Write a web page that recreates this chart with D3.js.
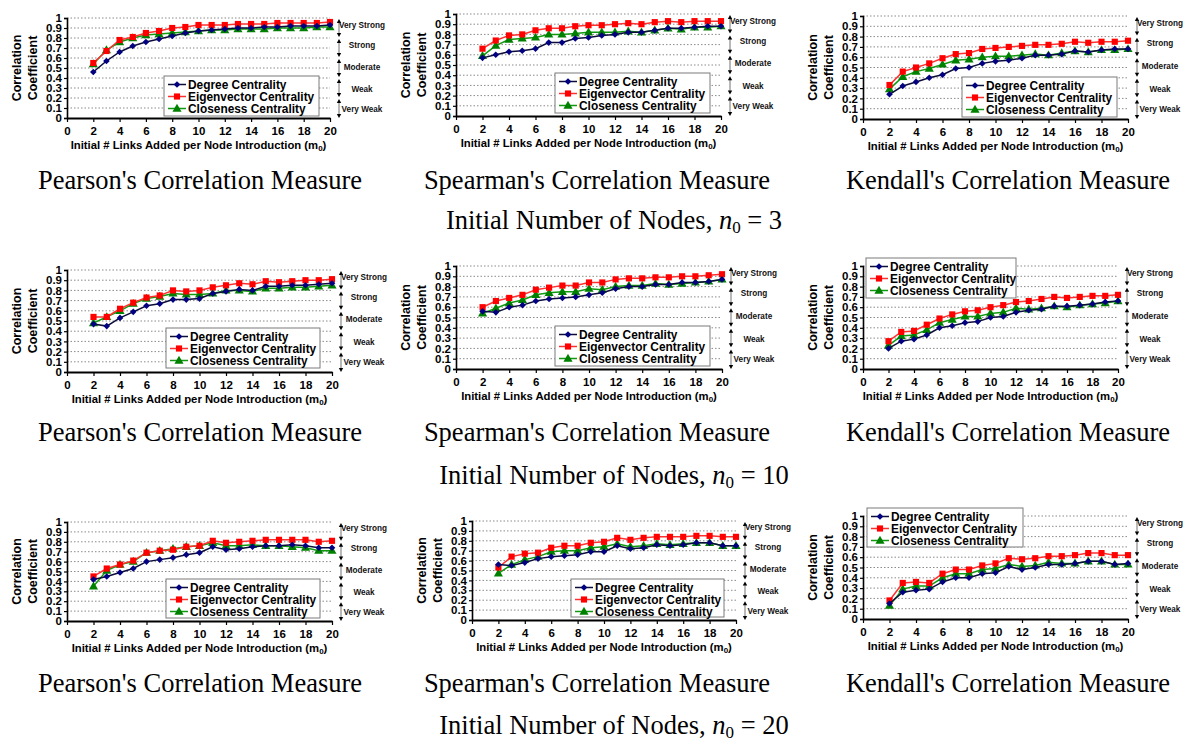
<!DOCTYPE html>
<html><head><meta charset="utf-8">
<script src="https://cdn.jsdelivr.net/npm/d3@7"></script>
<style>body{margin:0;background:#fff}svg{display:block}</style>
</head><body>
<svg id="c" width="1184" height="743"></svg>
<script>
// ---------- data ----------
const m0 = [2,3,4,5,6,7,8,9,10,11,12,13,14,15,16,17,18,19,20];
const xTicks = [0,2,4,6,8,10,12,14,16,18,20];
const yTicks = [0,0.1,0.2,0.3,0.4,0.5,0.6,0.7,0.8,0.9,1];
const yTickLabels = ["0","0.1","0.2","0.3","0.4","0.5","0.6","0.7","0.8","0.9","1"];
const seriesNames = ["Degree Centrality","Eigenvector Centrality","Closeness Centrality"];
const bandLabels = ["Very Strong","Strong","Moderate","Weak","Very Weak"];
const measureNames = ["Pearson's Correlation Measure","Spearman's Correlation Measure","Kendall's Correlation Measure"];
const n0Values = ["3","10","20"];

// n0 = 3
const pearsonN3Degree = [0.46,0.57,0.66,0.72,0.76,0.79,0.82,0.85,0.87,0.88,0.89,0.90,0.90,0.91,0.91,0.92,0.92,0.92,0.93];
const pearsonN3Eigen  = [0.55,0.67,0.78,0.81,0.85,0.87,0.90,0.91,0.93,0.93,0.93,0.94,0.94,0.94,0.95,0.95,0.95,0.95,0.96];
const pearsonN3Close  = [0.54,0.68,0.76,0.80,0.83,0.84,0.85,0.86,0.87,0.88,0.88,0.89,0.89,0.89,0.90,0.90,0.90,0.91,0.91];
const spearmanN3Degree = [0.57,0.60,0.63,0.64,0.66,0.72,0.72,0.76,0.77,0.79,0.80,0.82,0.82,0.84,0.86,0.86,0.87,0.88,0.88];
const spearmanN3Eigen  = [0.66,0.74,0.79,0.80,0.84,0.86,0.86,0.88,0.89,0.89,0.90,0.91,0.90,0.92,0.93,0.92,0.93,0.93,0.93];
const spearmanN3Close  = [0.59,0.69,0.75,0.76,0.77,0.80,0.80,0.81,0.82,0.82,0.82,0.83,0.82,0.84,0.86,0.85,0.87,0.87,0.88];
const kendallN3Degree = [0.24,0.32,0.36,0.40,0.43,0.49,0.50,0.54,0.56,0.57,0.59,0.62,0.62,0.63,0.66,0.65,0.67,0.68,0.68];
const kendallN3Eigen  = [0.33,0.46,0.50,0.54,0.59,0.63,0.64,0.68,0.69,0.70,0.71,0.72,0.72,0.73,0.75,0.74,0.75,0.75,0.76];
const kendallN3Close  = [0.29,0.41,0.46,0.49,0.53,0.57,0.58,0.60,0.61,0.61,0.62,0.63,0.62,0.64,0.66,0.65,0.67,0.67,0.68];
// n0 = 10
const pearsonN10Degree = [0.47,0.45,0.53,0.59,0.65,0.67,0.71,0.71,0.72,0.77,0.79,0.81,0.80,0.84,0.84,0.85,0.85,0.86,0.87];
const pearsonN10Eigen  = [0.54,0.54,0.62,0.68,0.73,0.75,0.80,0.79,0.80,0.83,0.85,0.87,0.86,0.89,0.88,0.89,0.90,0.90,0.91];
const pearsonN10Close  = [0.48,0.54,0.60,0.67,0.72,0.74,0.77,0.76,0.76,0.77,0.80,0.80,0.79,0.82,0.82,0.83,0.83,0.84,0.85];
const spearmanN10Degree = [0.56,0.55,0.60,0.62,0.66,0.68,0.69,0.70,0.72,0.74,0.78,0.80,0.80,0.82,0.82,0.84,0.84,0.85,0.87];
const spearmanN10Eigen  = [0.60,0.66,0.69,0.72,0.77,0.79,0.81,0.81,0.84,0.84,0.87,0.88,0.88,0.89,0.89,0.90,0.90,0.91,0.92];
const spearmanN10Close  = [0.54,0.59,0.64,0.67,0.72,0.74,0.75,0.75,0.78,0.77,0.80,0.81,0.81,0.83,0.82,0.83,0.84,0.85,0.87];
const kendallN10Degree = [0.20,0.27,0.29,0.33,0.40,0.42,0.45,0.46,0.50,0.51,0.55,0.57,0.58,0.61,0.61,0.62,0.63,0.65,0.66];
const kendallN10Eigen  = [0.27,0.36,0.37,0.43,0.49,0.53,0.56,0.57,0.60,0.62,0.65,0.66,0.68,0.70,0.69,0.70,0.71,0.71,0.72];
const kendallN10Close  = [0.23,0.32,0.33,0.38,0.45,0.48,0.51,0.51,0.54,0.55,0.59,0.58,0.59,0.61,0.60,0.62,0.63,0.64,0.66];
// n0 = 20
const pearsonN20Degree = [0.42,0.45,0.49,0.53,0.60,0.62,0.64,0.67,0.69,0.75,0.72,0.73,0.75,0.76,0.76,0.77,0.76,0.74,0.74];
const pearsonN20Eigen  = [0.45,0.53,0.57,0.61,0.69,0.71,0.72,0.75,0.76,0.81,0.79,0.80,0.81,0.82,0.82,0.82,0.82,0.80,0.81];
const pearsonN20Close  = [0.35,0.51,0.57,0.60,0.69,0.71,0.73,0.75,0.76,0.79,0.76,0.76,0.77,0.76,0.76,0.75,0.74,0.71,0.71];
const spearmanN20Degree = [0.56,0.55,0.58,0.62,0.64,0.65,0.66,0.69,0.69,0.75,0.72,0.73,0.76,0.75,0.76,0.78,0.78,0.75,0.75];
const spearmanN20Eigen  = [0.53,0.64,0.67,0.68,0.73,0.75,0.75,0.78,0.79,0.83,0.81,0.83,0.84,0.84,0.84,0.85,0.85,0.84,0.84];
const spearmanN20Close  = [0.47,0.56,0.61,0.64,0.69,0.70,0.70,0.73,0.74,0.77,0.74,0.75,0.77,0.76,0.77,0.78,0.78,0.75,0.75];
const kendallN20Degree = [0.15,0.26,0.28,0.29,0.36,0.40,0.40,0.44,0.45,0.51,0.48,0.50,0.53,0.53,0.54,0.56,0.56,0.53,0.54];
const kendallN20Eigen  = [0.18,0.35,0.36,0.35,0.44,0.48,0.48,0.52,0.54,0.59,0.58,0.59,0.61,0.61,0.62,0.64,0.64,0.62,0.62];
const kendallN20Close  = [0.13,0.29,0.32,0.32,0.40,0.44,0.44,0.48,0.49,0.53,0.51,0.52,0.55,0.54,0.54,0.56,0.56,0.53,0.53];

// ---------- layout ----------
const panels = [
  {s:[pearsonN3Degree,pearsonN3Eigen,pearsonN3Close],   b:[67,330,18,118],  lg:[164,76,155,40]},
  {s:[spearmanN3Degree,spearmanN3Eigen,spearmanN3Close],b:[456,721,14,116], lg:[555,73,155,40]},
  {s:[kendallN3Degree,kendallN3Eigen,kendallN3Close],   b:[863,1128,16,119],lg:[962,77,155,40]},
  {s:[pearsonN10Degree,pearsonN10Eigen,pearsonN10Close],   b:[67,332,270,372], lg:[166,328,154,40]},
  {s:[spearmanN10Degree,spearmanN10Eigen,spearmanN10Close],b:[456,722,266,369],lg:[555,326,155,40]},
  {s:[kendallN10Degree,kendallN10Eigen,kendallN10Close],   b:[863,1118,266,369],lg:[866,258,150,40]},
  {s:[pearsonN20Degree,pearsonN20Eigen,pearsonN20Close],   b:[67,332,522,621], lg:[166,579,154,39]},
  {s:[spearmanN20Degree,spearmanN20Eigen,spearmanN20Close],b:[472,736,521,620],lg:[571,579,153,38]},
  {s:[kendallN20Degree,kendallN20Eigen,kendallN20Close],   b:[863,1128,516,619],lg:[867,508,156,39]}
];
const captionX = [200,597,1008];
const captionY = [189,441,692];
const subtitleY = [229,484,734];
const subtitleX = 614;
const bandLabelPos = [0.93,0.73,0.51,0.29,0.09];

const styles = [
  {line:"#0c0c3a", fill:"#000080", sym:"diamond"},
  {line:"#ff3030", fill:"#ff0000", sym:"square"},
  {line:"#109a10", fill:"#008000", sym:"triangle"}
];
const SANS = "'Liberation Sans', Arial, sans-serif";
const SERIF = "'Liberation Serif', 'Times New Roman', serif";

const svg = d3.select("#c");

function marker(sel, st, x, y) {
  if (st.sym === "diamond") {
    sel.append("path").attr("d", d3.symbol().type(d3.symbolSquare).size(22)())
      .attr("transform", `translate(${x},${y}) rotate(45)`).attr("fill", st.fill);
  } else if (st.sym === "square") {
    sel.append("path").attr("d", d3.symbol().type(d3.symbolSquare).size(38)())
      .attr("transform", `translate(${x},${y})`).attr("fill", st.fill);
  } else {
    sel.append("path").attr("d", d3.symbol().type(d3.symbolTriangle).size(36)())
      .attr("transform", `translate(${x},${y+0.5})`).attr("fill", st.fill);
  }
}

panels.forEach(p => {
  const [x0,x1,yT,yB] = p.b;
  const x = d3.scaleLinear().domain([0,20]).range([x0,x1]);
  const y = d3.scaleLinear().domain([0,1]).range([yB,yT]);
  const g = svg.append("g");

  // gridlines
  g.selectAll(".grid").data(yTicks.filter(v => v > 0)).join("line")
    .attr("x1", x0).attr("x2", x1).attr("y1", d => y(d)).attr("y2", d => y(d))
    .attr("stroke", "#8a8a8a").attr("stroke-width", 1).attr("stroke-dasharray", "1.5,2");

  // y axis
  const ya = g.append("g").attr("transform", `translate(${x0},0)`)
    .call(d3.axisLeft(y).tickValues(yTicks).tickFormat((d,i) => yTickLabels[i]).tickSize(3).tickPadding(2));
  ya.select(".domain").attr("stroke", "#000").attr("stroke-width", 1.6);
  ya.selectAll(".tick line").attr("stroke", "#000").attr("stroke-width", 1.2);
  ya.selectAll("text").attr("font-family", SANS).attr("font-weight", "bold").attr("font-size", "11.5px").attr("fill", "#000");

  // x axis
  const xa = g.append("g").attr("transform", `translate(0,${yB})`)
    .call(d3.axisBottom(x).tickValues(xTicks).tickFormat(d3.format("d")).tickSize(4).tickSizeOuter(0).tickPadding(5));
  xa.select(".domain").attr("stroke", "#000").attr("stroke-width", 2);
  xa.selectAll(".tick line").attr("stroke", "#000").attr("stroke-width", 1.2);
  xa.selectAll("text").attr("font-family", SANS).attr("font-weight", "bold").attr("font-size", "11.5px").attr("fill", "#000");

  // x title
  const xt = g.append("text").attr("x", (x0+x1)/2).attr("y", yB+31).attr("text-anchor", "middle")
    .attr("font-family", SANS).attr("font-weight", "bold").attr("font-size", "11.3px");
  xt.append("tspan").text("Initial # Links Added per Node Introduction (m");
  xt.append("tspan").attr("font-size", "8px").attr("dy", 2).text("0");
  xt.append("tspan").attr("dy", -2).text(")");

  // y title
  const ym = (yT+yB)/2;
  [["Correlation",-50],["Coefficient",-34]].forEach(([t,dx]) => {
    g.append("text").attr("transform", `translate(${x0+dx},${ym}) rotate(-90)`)
      .attr("text-anchor", "middle").attr("dominant-baseline", "central")
      .attr("font-family", SANS).attr("font-weight", "bold").attr("font-size", "12.5px").text(t);
  });

  // band arrows & labels
  const ax = x1 + 9;
  bandLabels.forEach((lab, i) => {
    const top = y(1 - 0.2*i - 0.01);
    const bot = y(0.8 - 0.2*i + (i===4?0.0:0.01));
    g.append("line").attr("x1", ax).attr("x2", ax).attr("y1", top+2).attr("y2", bot-2)
      .attr("stroke", "#9a9a9a").attr("stroke-width", 1.4);
    g.append("path").attr("d", `M${ax},${top} L${ax-2.2},${top+4} L${ax+2.2},${top+4} Z`).attr("fill", "#000");
    g.append("path").attr("d", `M${ax},${bot} L${ax-2.2},${bot-4} L${ax+2.2},${bot-4} Z`).attr("fill", "#000");
    g.append("text").attr("x", ax + 23).attr("y", y(bandLabelPos[i])).attr("text-anchor", "middle")
      .attr("dominant-baseline", "central").attr("font-family", SANS).attr("font-weight", "bold")
      .attr("font-size", "8.2px").attr("fill", "#111").text(lab);
  });

  // series lines and markers
  [2,1,0].forEach(si => {
    const st = styles[si];
    const vals = p.s[si];
    const line = d3.line().x((d,i) => x(m0[i])).y(d => y(d));
    g.append("path").attr("d", line(vals)).attr("fill", "none").attr("stroke", st.line).attr("stroke-width", 1.5);
    const mg = g.append("g");
    vals.forEach((v,i) => marker(mg, st, x(m0[i]), y(v)));
  });

  // legend
  const [lx,ly,lw,lh] = p.lg;
  const lgG = g.append("g");
  lgG.append("rect").attr("x", lx).attr("y", ly).attr("width", lw).attr("height", lh)
    .attr("fill", "#fff").attr("stroke", "#7a7a7a").attr("stroke-width", 1);
  seriesNames.forEach((nm, i) => {
    const cy = ly + 8.5 + i*12;
    const st = styles[i];
    lgG.append("line").attr("x1", lx+4).attr("x2", lx+22).attr("y1", cy).attr("y2", cy)
      .attr("stroke", st.line).attr("stroke-width", 1.5);
    marker(lgG, st, lx+13, cy);
    lgG.append("text").attr("x", lx+24).attr("y", cy).attr("dominant-baseline", "central")
      .attr("font-family", SANS).attr("font-weight", "bold").attr("font-size", "11.9px").text(nm);
  });
});

// captions
for (let r = 0; r < 3; r++) {
  for (let c = 0; c < 3; c++) {
    svg.append("text").attr("x", captionX[c]).attr("y", captionY[r]).attr("text-anchor", "middle")
      .attr("font-family", SERIF).attr("font-size", "26.5px").attr("fill", "#000").text(measureNames[c]);
  }
  const t = svg.append("text").attr("x", subtitleX).attr("y", subtitleY[r]).attr("text-anchor", "middle")
    .attr("font-family", SERIF).attr("font-size", "26.5px").attr("fill", "#000");
  t.append("tspan").text("Initial Number of Nodes, ");
  t.append("tspan").attr("font-style", "italic").text("n");
  t.append("tspan").attr("font-size", "17px").attr("dy", 4).text("0");
  t.append("tspan").attr("dy", -4).text(" = " + n0Values[r]);
}
</script>
</body></html>
